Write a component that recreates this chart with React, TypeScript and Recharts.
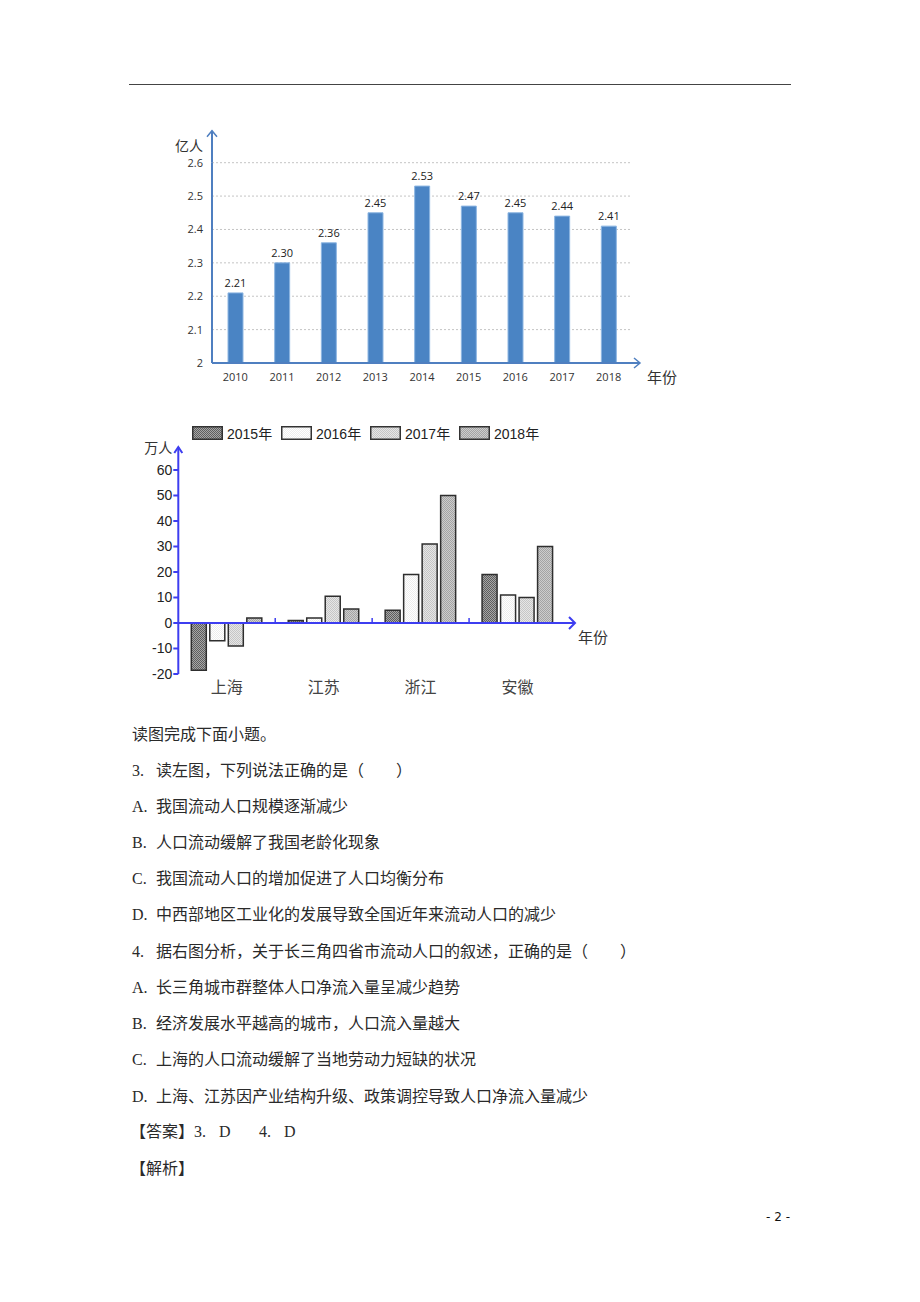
import React from "react";
import {
  Bar,
  BarChart,
  CartesianGrid,
  LabelList,
  Legend,
  ReferenceLine,
  XAxis,
  YAxis,
} from "recharts";

// chart 1: floating population (亿人)
const years = ["2010", "2011", "2012", "2013", "2014", "2015", "2016", "2017", "2018"];
const floating = [2.21, 2.3, 2.36, 2.45, 2.53, 2.47, 2.45, 2.44, 2.41];
const yTicks1 = [2, 2.1, 2.2, 2.3, 2.4, 2.5, 2.6];

// chart 2: net inflow by province (万人)
const provinces = ["上海", "江苏", "浙江", "安徽"];
const seriesNames = ["2015年", "2016年", "2017年", "2018年"];
const flow2015 = [-18.5, 1, 5, 19];
const flow2016 = [-7, 2, 19, 11];
const flow2017 = [-9, 10.5, 31, 10];
const flow2018 = [2, 5.5, 50, 30];
const yTicks2 = [-20, -10, 0, 10, 20, 30, 40, 50, 60];

const data1 = years.map((y, i) => ({ year: y, value: floating[i] }));
const data2 = provinces.map((p, i) => ({
  name: p,
  s0: flow2015[i],
  s1: flow2016[i],
  s2: flow2017[i],
  s3: flow2018[i],
}));

const cjk = '"Noto Sans CJK SC", sans-serif';
const blue1 = "#4f7fc0";
const blue2 = "#3d3df0";

// texture fills for the grey bars
const patterns = [
  { id: "p2015", light: "#a6a6a6", dark: "#5e5e5e" },
  { id: "p2016", light: "#ffffff", dark: "#ededed" },
  { id: "p2017", light: "#e6e6e6", dark: "#c6c6c6" },
  { id: "p2018", light: "#cdcdcd", dark: "#a4a4a4" },
];

const YArrow1 = (props: any) => {
  const vb = props.viewBox;
  const x = vb.x + vb.width;
  const y = vb.y;
  return (
    <g>
      <line x1={x} y1={y} x2={x} y2={y - 32} stroke={blue1} strokeWidth={2} />
      <polyline
        points={`${x - 5},${y - 26} ${x},${y - 32} ${x + 5},${y - 26}`}
        fill="none"
        stroke={blue1}
        strokeWidth={1.5}
      />
      <text x={x - 9} y={y - 18} textAnchor="end" dominantBaseline="central" fontSize={14} fill="#333" fontFamily={cjk}>
        亿人
      </text>
    </g>
  );
};

const XArrow1 = (props: any) => {
  const vb = props.viewBox;
  const x = vb.x + vb.width;
  const y = vb.y;
  return (
    <g>
      <line x1={x} y1={y} x2={x + 8} y2={y} stroke={blue1} strokeWidth={2} />
      <polyline
        points={`${x + 2},${y - 5} ${x + 8},${y} ${x + 2},${y + 5}`}
        fill="none"
        stroke={blue1}
        strokeWidth={1.5}
      />
      <text x={x + 15} y={y + 13} dominantBaseline="central" fontSize={15} fill="#333" fontFamily={cjk}>
        年份
      </text>
    </g>
  );
};

const YArrow2 = (props: any) => {
  const vb = props.viewBox;
  const x = vb.x + vb.width;
  const y = vb.y;
  return (
    <g>
      <line x1={x} y1={y} x2={x} y2={y - 23} stroke={blue2} strokeWidth={2} />
      <polyline
        points={`${x - 4},${y - 17} ${x},${y - 23} ${x + 4},${y - 17}`}
        fill="none"
        stroke={blue2}
        strokeWidth={2}
      />
      <text x={x - 6} y={y - 23} textAnchor="end" dominantBaseline="central" fontSize={14} fill="#333" fontFamily={cjk}>
        万人
      </text>
    </g>
  );
};

const ZeroAxis = (props: any) => {
  const { x1, y1, x2 } = props;
  const band = (x2 - x1) / provinces.length;
  const ticks = provinces.slice(1).map((_, k) => x1 + band * (k + 1));
  return (
    <g>
      <line x1={x1} y1={y1} x2={x2 + 9} y2={y1} stroke={blue2} strokeWidth={2} />
      {ticks.map((tx) => (
        <line key={tx} x1={tx} y1={y1} x2={tx} y2={y1 - 5} stroke={blue2} strokeWidth={1.5} />
      ))}
      <polyline
        points={`${x2 + 3},${y1 - 6} ${x2 + 9},${y1} ${x2 + 3},${y1 + 6}`}
        fill="none"
        stroke={blue2}
        strokeWidth={2}
      />
      <text x={x2 + 12} y={y1 + 13} dominantBaseline="central" fontSize={15} fill="#333" fontFamily={cjk}>
        年份
      </text>
    </g>
  );
};

const LegendBoxes = () => (
  <div style={{ display: "flex", paddingLeft: 72 }}>
    {seriesNames.map((n, i) => (
      <div key={n} style={{ display: "flex", alignItems: "center", width: 89 }}>
        <svg width={31} height={14} style={{ marginRight: 4 }}>
          <rect x={0.75} y={0.75} width={29.5} height={12.5} fill={`url(#${patterns[i].id})`} stroke="#333" strokeWidth={1.5} />
        </svg>
        <span style={{ fontFamily: '"Liberation Sans", Arial, sans-serif', fontSize: 14, color: "#222", whiteSpace: "nowrap" }}>
          {n.slice(0, 4)}
          <span style={{ fontFamily: cjk }}>{n.slice(4)}</span>
        </span>
      </div>
    ))}
  </div>
);

const lines: { y: number; pre?: string; text: string }[] = [
  { y: 733, text: "读图完成下面小题。" },
  { y: 769, pre: "3.", text: "读左图，下列说法正确的是（\u3000\u3000）" },
  { y: 805, pre: "A.", text: "我国流动人口规模逐渐减少" },
  { y: 841, pre: "B.", text: "人口流动缓解了我国老龄化现象" },
  { y: 877, pre: "C.", text: "我国流动人口的增加促进了人口均衡分布" },
  { y: 913, pre: "D.", text: "中西部地区工业化的发展导致全国近年来流动人口的减少" },
  { y: 950, pre: "4.", text: "据右图分析，关于长三角四省市流动人口的叙述，正确的是（\u3000\u3000）" },
  { y: 986, pre: "A.", text: "长三角城市群整体人口净流入量呈减少趋势" },
  { y: 1022, pre: "B.", text: "经济发展水平越高的城市，人口流入量越大" },
  { y: 1058, pre: "C.", text: "上海的人口流动缓解了当地劳动力短缺的状况" },
  { y: 1095, pre: "D.", text: "上海、江苏因产业结构升级、政策调控导致人口净流入量减少" },
];

const textStyle: React.CSSProperties = {
  position: "absolute",
  left: 132,
  fontFamily: cjk,
  fontSize: 16,
  lineHeight: "24px",
  color: "#2a2a2a",
  whiteSpace: "nowrap",
};
const preStyle: React.CSSProperties = {
  display: "inline-block",
  width: 24,
  fontFamily: '"Liberation Serif", serif',
};

export default function App() {
  return (
    <div style={{ position: "absolute", left: 0, top: 0, width: 920, height: 1302, background: "#fff" }}>
      <div style={{ position: "absolute", left: 129, top: 84, width: 662, height: 0, borderTop: "1.5px solid #444" }} />

      <div style={{ position: "absolute", left: 150, top: 100 }}>
        <BarChart width={560} height={300} data={data1} margin={{ top: 62.7, right: 78, bottom: 7, left: 2 }}>
          <CartesianGrid vertical={false} stroke="#c4c4c4" strokeDasharray="2 2" />
          <XAxis
            dataKey="year"
            height={30}
            tickSize={0}
            tickMargin={10}
            axisLine={{ stroke: blue1, strokeWidth: 2 }}
            tickLine={false}
            interval={0}
            tick={{ fontSize: 11, fill: "#333", fontFamily: '"Open Sans", sans-serif' }}
            label={{ content: XArrow1 }}
          />
          <YAxis
            width={60}
            domain={[2, 2.6]}
            ticks={yTicks1}
            interval={0}
            tickSize={0}
            tickMargin={9}
            axisLine={{ stroke: blue1, strokeWidth: 2 }}
            tickLine={false}
            tick={{ fontSize: 11, fill: "#333", fontFamily: '"Open Sans", sans-serif' }}
            label={{ content: YArrow1 }}
          />
          <Bar dataKey="value" barSize={15} fill="#4a84c4" stroke="#8db6e2" strokeWidth={1} isAnimationActive={false}>
            <LabelList
              dataKey="value"
              position="top"
              offset={6}
              formatter={(v: any) => Number(v).toFixed(2)}
              style={{ fontSize: 11, fill: "#222", fontFamily: '"Open Sans", sans-serif' }}
            />
          </Bar>
        </BarChart>
      </div>

      <div style={{ position: "absolute", left: 120, top: 420 }}>
        <BarChart width={520} height={290} data={data2} margin={{ top: 50, right: 74, bottom: 6, left: 8.3 }} barGap={3.5}>
          <defs>
            {patterns.map((p) => (
              <pattern key={p.id} id={p.id} width={2} height={2} patternUnits="userSpaceOnUse">
                <rect width={2} height={2} fill={p.light} />
                <rect width={1} height={1} fill={p.dark} />
                <rect x={1} y={1} width={1} height={1} fill={p.dark} />
              </pattern>
            ))}
          </defs>
          <Legend
            verticalAlign="middle"
            align="center"
            content={LegendBoxes}
            wrapperStyle={{ top: 3, left: 0, width: 520 }}
          />
          <XAxis
            dataKey="name"
            height={30}
            axisLine={false}
            tickLine={false}
            tickSize={0}
            tickMargin={8}
            interval={0}
            tick={{ fontSize: 16, fill: "#444", fontFamily: cjk }}
          />
          <YAxis
            width={50}
            domain={[-20, 60]}
            ticks={yTicks2}
            interval={0}
            tickSize={5}
            tickMargin={1}
            axisLine={{ stroke: blue2, strokeWidth: 2 }}
            tickLine={{ stroke: blue2, strokeWidth: 2 }}
            tick={{ fontSize: 14, fill: "#222", fontFamily: '"Liberation Sans", Arial, sans-serif' }}
            label={{ content: YArrow2 }}
          />
          {patterns.map((p, i) => (
            <Bar
              key={p.id}
              dataKey={`s${i}`}
              name={seriesNames[i]}
              barSize={15}
              fill={`url(#${p.id})`}
              stroke="#2e2e2e"
              strokeWidth={1.5}
              isAnimationActive={false}
            />
          ))}
          <ReferenceLine y={0} ifOverflow="visible" shape={ZeroAxis} />
        </BarChart>
      </div>

      {lines.map((l) => (
        <div key={l.y} style={{ ...textStyle, top: l.y - 12 }}>
          {l.pre && <span style={preStyle}>{l.pre}</span>}
          {l.text}
        </div>
      ))}
      <div style={{ ...textStyle, top: 1130 - 12, left: 130 }}>
        【答案】<span style={{ ...preStyle, width: 25 }}>3.</span>
        <span style={{ ...preStyle, width: 40 }}>D</span>
        <span style={{ ...preStyle, width: 25 }}>4.</span>
        <span style={preStyle}>D</span>
      </div>
      <div style={{ ...textStyle, top: 1167 - 12, left: 130 }}>【解析】</div>

      <div
        style={{
          position: "absolute",
          left: 760,
          top: 1209,
          width: 36,
          textAlign: "center",
          fontSize: 12,
          lineHeight: "16px",
          fontFamily: '"DejaVu Sans", sans-serif',
          color: "#111",
        }}
      >
        - 2 -
      </div>
    </div>
  );
}
